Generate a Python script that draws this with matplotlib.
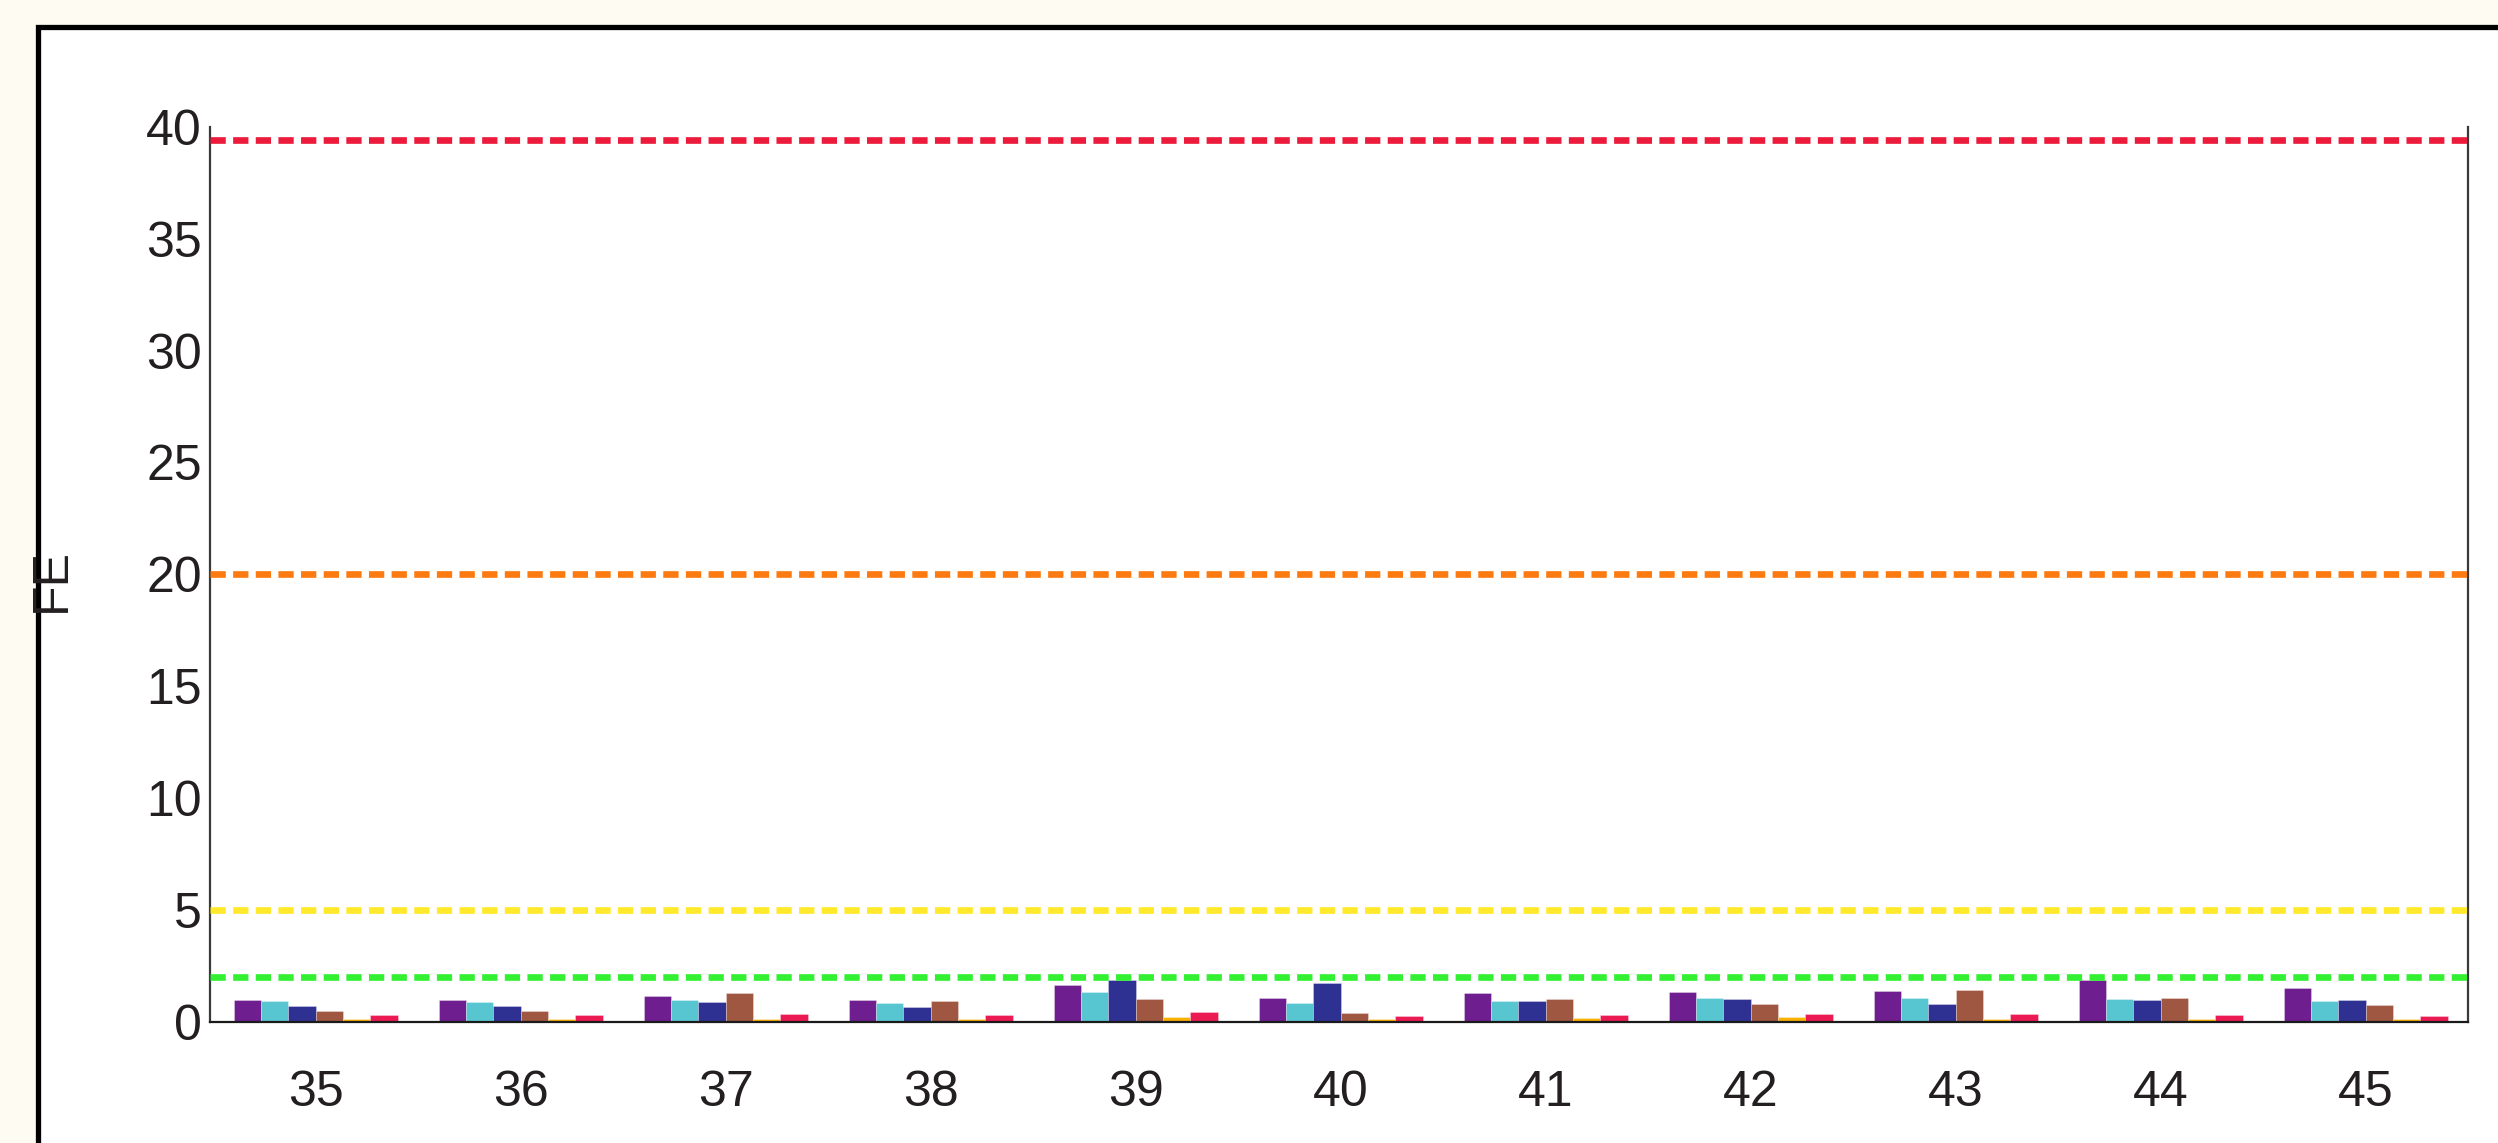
import numpy as np
import matplotlib
matplotlib.use("Agg")
import matplotlib.pyplot as plt
from matplotlib.patches import Rectangle

categories = [35, 36, 37, 38, 39, 40, 41, 42, 43, 44, 45]
s1 = [0.97, 0.94, 1.12, 0.94, 1.64, 1.06, 1.27, 1.31, 1.37, 1.87, 1.48]
s2 = [0.93, 0.86, 0.94, 0.81, 1.31, 0.81, 0.93, 1.06, 1.05, 1.00, 0.93]
s3 = [0.70, 0.69, 0.85, 0.67, 1.84, 1.72, 0.92, 1.02, 0.79, 0.95, 0.95]
s4 = [0.46, 0.45, 1.28, 0.93, 0.99, 0.37, 1.02, 0.79, 1.43, 1.03, 0.73]
s5 = [0.13, 0.13, 0.13, 0.13, 0.18, 0.09, 0.14, 0.19, 0.13, 0.13, 0.13]
s6 = [0.30, 0.27, 0.34, 0.28, 0.42, 0.26, 0.30, 0.33, 0.33, 0.27, 0.24]
series = [s1, s2, s3, s4, s5, s6]
bar_colors = ['#6E1E8E', '#58C6D0', '#2E3192', '#A05742', '#F8B100', '#EC1A52']

thresholds = [39.4, 20, 5, 2]
threshold_colors = ['#EC1A3B', '#FC7A10', '#FFE92A', '#33F033']

yticks = [0, 5, 10, 15, 20, 25, 30, 35, 40]

plt.rcParams['font.family'] = ['Liberation Sans', 'DejaVu Sans']
plt.rcParams['lines.scale_dashes'] = False

W, H = 2498, 1143
fig = plt.figure(figsize=(W / 100, H / 100), dpi=100)
fig.patch.set_facecolor('#FEFBF2')

# white framed panel (clipped on right and bottom)
frame = Rectangle((37.5 / W, -0.05), 1.2, (H - 26.5) / H + 0.05,
                  transform=fig.transFigure, facecolor='white',
                  edgecolor='black', linewidth=3.8, zorder=-10)
fig.patches.append(frame)

ax = fig.add_axes([210 / W, (H - 1021.5) / H, (2468 - 210) / W, (1021.5 - 127) / H])
ax.set_zorder(1)
ax.set_facecolor('white')

n = len(series)
group_w = 0.8
bw = group_w / n
x = np.array(categories, dtype=float)
for i, (vals, c) in enumerate(zip(series, bar_colors)):
    offs = -group_w / 2 + bw * (i + 0.5)
    ax.bar(x + offs, vals, width=bw, color=c, edgecolor=(1, 1, 1, 0.35),
           linewidth=0.6, zorder=2)

for t, c in zip(thresholds, threshold_colors):
    ax.axhline(t, color=c, linewidth=4.8, dashes=(11, 5.3),
               dash_capstyle='butt', zorder=3)

ax.set_xlim(34.485, 45.5)
ax.set_ylim(0, 40)
ax.set_xticks(categories)
ax.set_xticklabels([str(c) for c in categories])
ax.set_yticks(yticks)
ax.set_yticklabels([str(v) for v in yticks])
ax.tick_params(axis='both', length=0, labelsize=36, colors='#231F20')
ax.tick_params(axis='x', pad=35)
ax.tick_params(axis='y', pad=6)

for side in ['left', 'right', 'bottom']:
    ax.spines[side].set_linewidth(1.6)
    ax.spines[side].set_color('#3A3A3A')
ax.spines['bottom'].set_color('#1A1A1A')
ax.spines['top'].set_visible(False)

fig.text(52 / W, (H - 580) / H, 'FE', rotation=90, ha='center', va='center',
         fontsize=36, color='#231F20', zorder=5)

fig.savefig('out.png', dpi=100, facecolor=fig.get_facecolor())
